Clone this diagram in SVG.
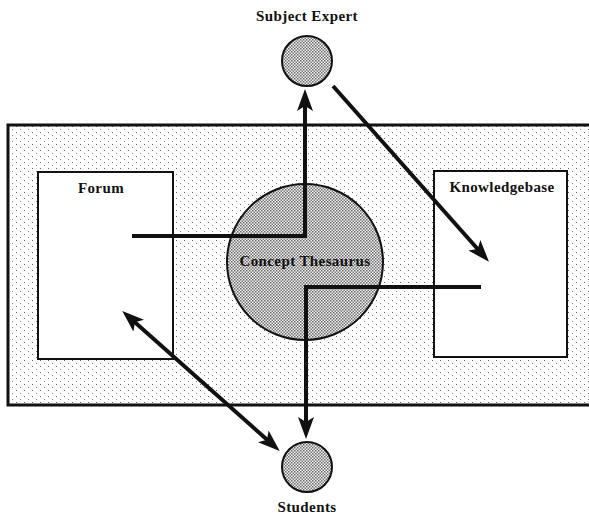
<svg xmlns="http://www.w3.org/2000/svg" width="589" height="517" viewBox="0 0 589 517">
<style>
.lbl{font-family:"Liberation Serif","Times New Roman",serif;font-weight:bold;font-size:15px;letter-spacing:0.4px;fill:#111;text-anchor:middle}
.box{fill:#fff;stroke:#111;stroke-width:2}
.con{fill:none;stroke:#111;stroke-width:4;stroke-linejoin:miter}
.node{stroke:#111;stroke-width:2}
</style>
<defs>
<pattern id="stip" width="8" height="6" patternUnits="userSpaceOnUse">
<rect width="8" height="6" fill="#fff"/>
<rect x="0" y="0" width="1" height="1" fill="#666"/>
<rect x="4" y="3" width="1" height="1" fill="#888"/>
</pattern>
<pattern id="check" width="3" height="3" patternUnits="userSpaceOnUse">
<rect width="3" height="3" fill="#f4f4f4"/>
<rect x="0" y="0" width="1.5" height="1.5" fill="#666"/>
<rect x="1.5" y="1.5" width="1.5" height="1.5" fill="#777"/>
</pattern>
<marker id="ah" viewBox="0 0 22 16" refX="13" refY="8" markerWidth="22" markerHeight="16" markerUnits="userSpaceOnUse" orient="auto-start-reverse">
<path d="M0,0 L22,8 L0,16 L5,8 z" fill="#111"/>
</marker>
</defs>
<g id="system">
<rect x="8" y="125" width="590" height="280" fill="url(#stip)" stroke="#111" stroke-width="3"/>
</g>
<g id="forum">
<rect class="box" x="38" y="172" width="135" height="187"/>
<text class="lbl" x="101" y="193">Forum</text>
</g>
<g id="knowledgebase">
<rect class="box" x="434" y="171" width="133" height="186"/>
<text class="lbl" x="502" y="192">Knowledgebase</text>
</g>
<g id="concept-thesaurus">
<circle class="node" cx="305" cy="262" r="78" fill="url(#check)"/>
</g>
<g id="connectors">
<path class="con" d="M132,236 L305,236 L305,98" marker-end="url(#ah)"/>
<path class="con" d="M333,86 L483,255" marker-end="url(#ah)"/>
<path class="con" d="M481,287 L306,287 L306,430" marker-end="url(#ah)"/>
<path class="con" d="M129,317 L273,445" marker-start="url(#ah)" marker-end="url(#ah)"/>
</g>
<g id="concept-label">
<text class="lbl" x="305" y="266">Concept Thesaurus</text>
</g>
<g id="subject-expert">
<circle class="node" cx="307" cy="61" r="25" fill="url(#check)"/>
<text class="lbl" x="307" y="21">Subject Expert</text>
</g>
<g id="students">
<circle class="node" cx="307" cy="467" r="25" fill="url(#check)"/>
<text class="lbl" x="307" y="512">Students</text>
</g>
</svg>
